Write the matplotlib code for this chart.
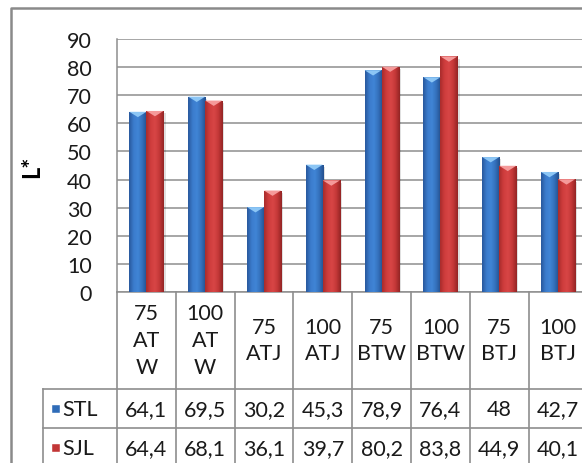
import numpy as np
import matplotlib
matplotlib.use("Agg")
from matplotlib import pyplot as plt
from matplotlib.colors import LinearSegmentedColormap
from matplotlib.patches import Polygon, Rectangle
from matplotlib.transforms import blended_transform_factory
from matplotlib.lines import Line2D

categories = ["75\nAT\nW", "100\nAT\nW", "75\nATJ", "100\nATJ",
              "75\nBTW", "100\nBTW", "75\nBTJ", "100\nBTJ"]
series_names = ["STL", "SJL"]
stl = [64.1, 69.5, 30.2, 45.3, 78.9, 76.4, 48, 42.7]
sjl = [64.4, 68.1, 36.1, 39.7, 80.2, 83.8, 44.9, 40.1]
yticks = list(range(0, 91, 10))

W, H = 582, 464
plt.rcParams['font.family'] = ['Lato', 'DejaVu Sans']

blue_cm = LinearSegmentedColormap.from_list("b", ["#28589c", "#3b7bcc", "#4085d6", "#3470bb", "#244f8c"])
red_cm = LinearSegmentedColormap.from_list("r", ["#a82c2c", "#cf3c3c", "#d84646", "#c43838", "#922424"])
caps = ["#8cc6f5", "#f59a9a"]
keys = ["#2f6cb8", "#c23636"]
gray = "#8e8e8e"
fs = 15.5


def fx(x):
    return x / W


def fy(y):
    return 1 - y / H


def main():
    fig = plt.figure(figsize=(W / 100, H / 100), dpi=100)
    ax = fig.add_axes([fx(117), fy(293), 470.4 / W, 253 / H])

    x = np.arange(len(categories))
    w = 0.29
    for vals, cm, cap, off in [(stl, blue_cm, caps[0], -w / 2), (sjl, red_cm, caps[1], w / 2)]:
        bars = ax.bar(x + off, vals, w, color=cm(0.5), zorder=3, linewidth=0)
        grad = np.linspace(0, 1, 64).reshape(1, -1)
        for b in bars:
            x0, h = b.get_x(), b.get_height()
            x1 = x0 + b.get_width()
            # soft shadow
            ax.add_patch(Rectangle((x1, 0), 0.035, h - 0.8, color="#000000", alpha=0.12,
                                   zorder=2, linewidth=0))
            im = ax.imshow(grad, cmap=cm, extent=[x0, x1, 0, h], aspect='auto',
                           zorder=3.5, interpolation='bicubic')
            im.set_clip_path(b)
            ax.add_patch(Polygon([(x0, h), (x1, h), ((x0 + x1) / 2, h - 1.9)],
                                 closed=True, color=cap, zorder=4, linewidth=0))

    ax.set_xlim(-0.5, len(categories) - 0.5)
    ax.set_ylim(0, 90)
    ax.set_yticks(yticks)
    ax.set_yticklabels([str(t) for t in yticks], fontsize=fs, color="#1a1a1a")
    ax.tick_params(axis='y', length=0, pad=18)
    ax.set_xticks([])
    ax.grid(axis='y', color=gray, linewidth=1.1, zorder=0)
    ax.set_axisbelow(True)
    for s in ["top", "right"]:
        ax.spines[s].set_visible(False)
    for s in ["left", "bottom"]:
        ax.spines[s].set_color(gray)
        ax.spines[s].set_linewidth(1.1)

    ax.text(fx(32), fy(167), "L*", transform=fig.transFigure, rotation=90,
            ha="center", va="center", fontsize=17, fontweight="bold")

    # data table under the axis
    tr = blended_transform_factory(ax.transData, fig.transFigure)
    for i in range(len(categories) + 1):
        fig.add_artist(Line2D([i - 0.5, i - 0.5], [fy(293), fy(470)], transform=tr,
                              color=gray, linewidth=1.2))
    for yy in [390, 429]:
        fig.add_artist(Line2D([fx(43), fx(600)], [fy(yy), fy(yy)], transform=fig.transFigure,
                              color=gray, linewidth=1.2))
    fig.add_artist(Line2D([fx(43), fx(43)], [fy(390), fy(470)], transform=fig.transFigure,
                          color=gray, linewidth=1.2))
    # outer chart border
    fig.add_artist(Line2D([fx(11), fx(11), fx(600)], [fy(470), fy(9), fy(9)],
                          transform=fig.transFigure, color="#8a8a8a", linewidth=1.8))

    for i, c in enumerate(categories):
        fig.text(i, fy(341), c, transform=tr, ha="center", va="center",
                 fontsize=fs, linespacing=1.42, color="#1a1a1a")

    for row, (name, vals) in enumerate(zip(series_names, [stl, sjl])):
        yc = fy(410 + 39 * row)
        fig.add_artist(Rectangle((fx(52), yc - 4 / H), 8 / W, 8 / H, transform=fig.transFigure,
                                 facecolor=keys[row], edgecolor="#ffffff", linewidth=0.3))
        fig.text(fx(62), yc, name, transform=fig.transFigure, ha="left", va="center",
                 fontsize=fs, color="#1a1a1a")
        for i, v in enumerate(vals):
            fig.text(i, yc, f"{v:g}".replace(".", ","), transform=tr, ha="center",
                     va="center", fontsize=fs, color="#1a1a1a")

    plt.savefig("out.png", dpi=100)


if __name__ == '__main__':
    main()
